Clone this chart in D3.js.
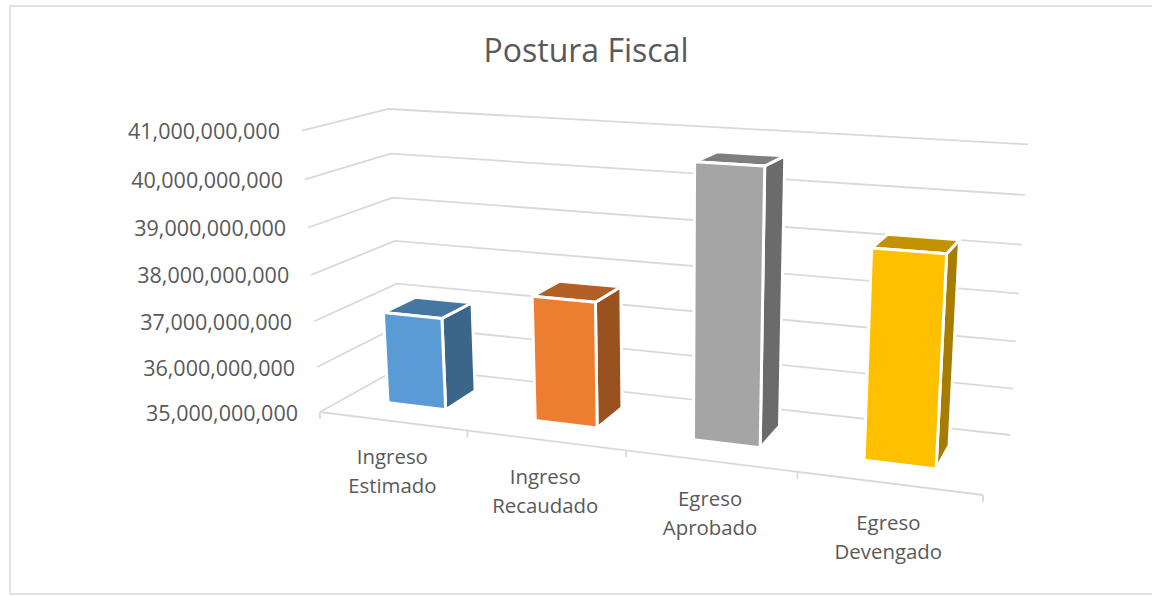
<!DOCTYPE html>
<html><head><meta charset="utf-8">
<script src="https://cdn.jsdelivr.net/npm/d3@7"></script>
<style>html,body{margin:0;padding:0;background:#fff}svg{display:block}text{font-family:"Open Sans",sans-serif;fill:#595959}</style>
</head><body><svg id="c" width="1152" height="596"></svg>
<script>
const categories = [["Ingreso","Estimado"],["Ingreso","Recaudado"],["Egreso","Aprobado"],["Egreso","Devengado"]];
const values = [37020000000, 37680000000, 40650000000, 39220000000];
const faceColors = ["#5b9bd5","#ed7d31","#a5a5a5","#ffc000"];
const topColors = ["#4676a2","#b45f25","#7e7e7e","#c39200"];
const sideColors = ["#3b6689","#9a5120","#6b6b6b","#a67d00"];
const valueDomain = [35000000000, 41000000000];
const titleText = "Postura Fiscal";

// perspective frame: floor [front-left, front-right, back-right, back-left], vertical vanishing point, roof height reference
const floorQuad = [[320,412],[983,495],[1010,435],[401,367]];
const vanish = [672,5900];
const backLeftTopY = 109;
const roofTaper = 0.014;

function homography(q){
  const [[x0,y0],[x1,y1],[x2,y2],[x3,y3]] = q;
  const dx1=x1-x2,dx2=x3-x2,sx=x0-x1+x2-x3,dy1=y1-y2,dy2=y3-y2,sy=y0-y1+y2-y3;
  const den=dx1*dy2-dx2*dy1;
  const g=(sx*dy2-dx2*sy)/den,h=(dx1*sy-sx*dy1)/den;
  const a=x1-x0+g*x1,b=x3-x0+h*x3,d=y1-y0+g*y1,e=y3-y0+h*y3;
  return {g,h,a,b,d,e,x0,y0};
}
const H=homography(floorQuad);
const wBL=H.h+1;
const k=wBL*(floorQuad[3][1]-backLeftTopY)/(backLeftTopY-vanish[1]);
const yT=d3.scaleLinear().domain(valueDomain).range([0,1]);
const band=d3.scaleBand().domain(d3.range(categories.length)).range([0,1]).paddingInner(0.6).paddingOuter(0.3);
const depth=d3.scaleLinear().domain([0,1]).range([0.3,0.7]);
function P(u,z,val){
  const t=yT(val)*(1-roofTaper*u*z);
  const w=H.g*u+H.h*z+1+k*t;
  return [(H.a*u+H.b*z+H.x0+vanish[0]*k*t)/w,(H.d*u+H.e*z+H.y0+vanish[1]*k*t)/w];
}
const svg=d3.select("#c");
const line=d3.line();
svg.append("path").attr("fill","none").attr("stroke","#d9d9d9").attr("stroke-width",1.5).attr("d",line([[1152,6],[10,6],[10,594],[1152,594]]));
svg.append("text").attr("x",586).attr("y",62).attr("text-anchor","middle").attr("font-size",32).text(titleText);

const ticks=d3.range(valueDomain[0],valueDomain[1]+1,1e9);
const fmt=d3.format(",");
const grid=svg.append("g").attr("fill","none").attr("stroke","#d9d9d9").attr("stroke-width",1.8);
const base=valueDomain[0];
ticks.forEach(v=>{
  grid.append("path").attr("d",line([P(0,0,v),P(0,1,v),P(1,1,v)]));
  const p=P(0,0,v);
  svg.append("text").attr("x",p[0]-22).attr("y",p[1]+8.5).attr("text-anchor","end").attr("font-size",21.5).text(fmt(v));
});
grid.append("path").attr("d",line([P(0,0,base),P(1,0,base)]));
d3.range(categories.length+1).forEach(i=>{
  const p=P(i/categories.length,0,base);
  grid.append("path").attr("d",line([p,[p[0],p[1]+7]]));
});
categories.forEach((c,i)=>{
  const p=P((i+.5)/categories.length,0,base);
  const t=svg.append("text").attr("text-anchor","middle").attr("font-size",20.4);
  c.forEach((s,j)=>t.append("tspan").attr("x",p[0]).attr("y",p[1]+43+i*1.3+j*29).text(s));
});
values.forEach((val,i)=>{
  const x0=band(i),x1=x0+band.bandwidth(),z0=depth(0),z1=depth(1);
  const g=svg.append("g").attr("stroke","#fff").attr("stroke-width",3).attr("stroke-linejoin","round");
  g.append("path").attr("fill",sideColors[i]).attr("d",line([P(x1,z0,base),P(x1,z1,base),P(x1,z1,val),P(x1,z0,val)])+"Z");
  g.append("path").attr("fill",topColors[i]).attr("d",line([P(x0,z0,val),P(x1,z0,val),P(x1,z1,val),P(x0,z1,val)])+"Z");
  g.append("path").attr("fill",faceColors[i]).attr("d",line([P(x0,z0,base),P(x1,z0,base),P(x1,z0,val),P(x0,z0,val)])+"Z");
});
</script></body></html>
